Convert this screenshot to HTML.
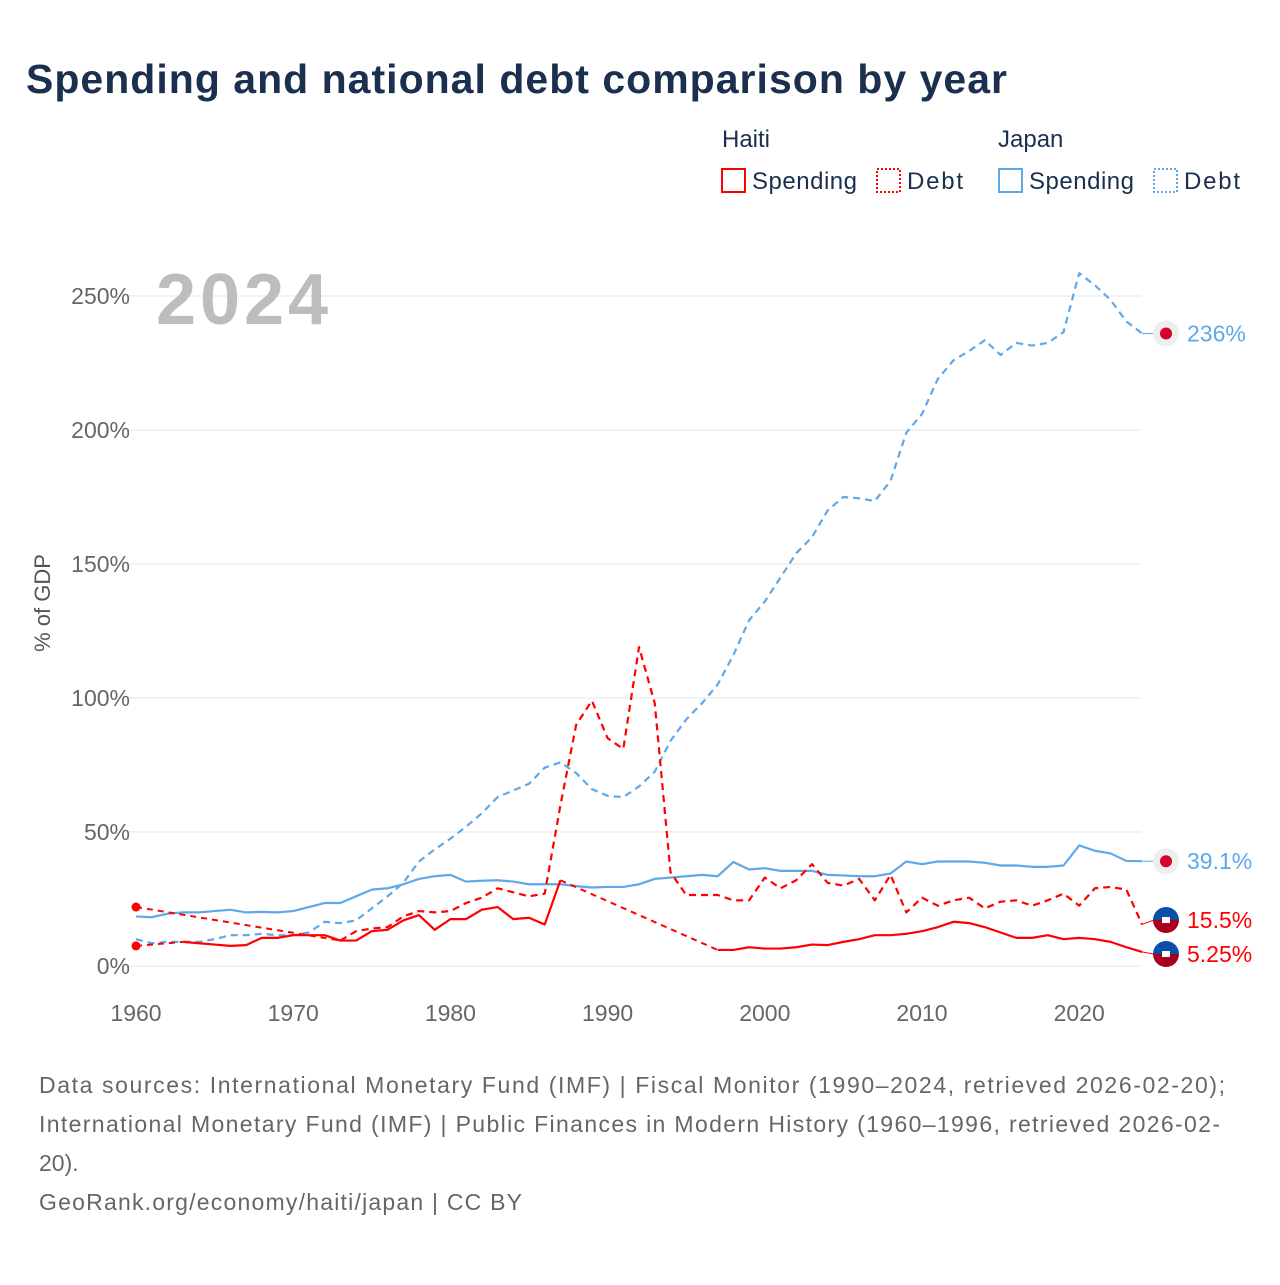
<!DOCTYPE html>
<html><head><meta charset="utf-8">
<style>
html,body{margin:0;padding:0;background:#fff;}
body{width:1280px;height:1280px;position:relative;overflow:hidden;font-family:"Liberation Sans",sans-serif;}
svg text{font-family:"Liberation Sans",sans-serif;}
</style></head>
<body>
<svg id="chart" width="1280" height="1280" xmlns="http://www.w3.org/2000/svg">
  <text x="26" y="93" font-size="41" font-weight="bold" fill="#1b2f4e" textLength="981">Spending and national debt comparison by year</text>
  <g font-size="24" fill="#1b2f4e">
    <text x="722" y="147">Haiti</text>
    <text x="998" y="147">Japan</text>
    <g><rect x="722" y="169" width="23" height="23" fill="none" stroke="#ff0000" stroke-width="2"/><text x="752" y="189" textLength="105">Spending</text></g>
    <g><rect x="877" y="169" width="23" height="23" fill="none" stroke="#ff0000" stroke-width="2" stroke-dasharray="2,2"/><text x="907" y="189" textLength="56">Debt</text></g>
    <g><rect x="999" y="169" width="23" height="23" fill="none" stroke="#5ea8ea" stroke-width="2"/><text x="1029" y="189" textLength="105">Spending</text></g>
    <g><rect x="1154" y="169" width="23" height="23" fill="none" stroke="#5ea8ea" stroke-width="2" stroke-dasharray="2,2"/><text x="1184" y="189" textLength="56">Debt</text></g>
  </g>
  <g id="grid"></g>
  <text x="156" y="324" font-size="72" font-weight="bold" fill="#bdbdbd" textLength="172">2024</text>
  <text transform="translate(50,603) rotate(-90)" text-anchor="middle" font-size="22" fill="#555">% of GDP</text>
  <g id="series"></g>
  <g id="ends"></g>
  <g font-size="23" fill="#666">
    <text x="39" y="1093" textLength="1186">Data sources: International Monetary Fund (IMF) | Fiscal Monitor (1990–2024, retrieved 2026-02-20);</text>
    <text x="39" y="1132" textLength="1181">International Monetary Fund (IMF) | Public Finances in Modern History (1960–1996, retrieved 2026-02-</text>
    <text x="39" y="1171">20).</text>
    <text x="39" y="1210" textLength="483">GeoRank.org/economy/haiti/japan | CC BY</text>
  </g>
</svg>
<script>
const years = []; for (let y = 1960; y <= 2024; y++) years.push(y);
const yTicks = [0, 50, 100, 150, 200, 250];
const xTicks = [1960, 1970, 1980, 1990, 2000, 2010, 2020];
const N = null;
const haitiSpending = [7.5,N,N,9,8.5,8,7.5,7.8,10.5,10.5,11.5,11.5,11.5,9.5,9.5,13,13.5,17,19,13.5,17.5,17.5,21,22,17.5,18,15.5,32,N,N,N,N,N,N,N,N,N,6,6,7,6.5,6.5,7,8,7.8,9,10,11.5,11.5,12,13,14.5,16.5,16,14.5,12.5,10.5,10.5,11.5,10,10.5,10,9,7,5.25];
const haitiDebt = [22,N,N,N,N,N,N,N,N,N,N,N,N,9.5,13,14,14.5,18.5,20.5,20,20.5,23.5,25.5,29,27.5,26,27,60,90,99,85,81,119,98,35,26.5,26.5,26.5,24.5,24.5,33,29,32,38,31,30,32.5,24.5,34,20,25.5,22.5,24.5,25.5,21.5,24,24.5,22.5,24.5,27,22.5,29,29.5,28.5,15.5];
const japanSpending = [18.5,18.2,19.5,20,20,20.5,21,20,20.2,20,20.5,22,23.5,23.5,26,28.5,29,30.5,32.5,33.5,34,31.5,31.8,32,31.5,30.5,30.5,30.5,29.8,29.3,29.5,29.5,30.5,32.5,33,33.5,34,33.5,38.8,36,36.5,35.5,35.5,35.5,34,33.8,33.5,33.5,34.5,39,38,39,39,39,38.5,37.5,37.5,37,37,37.5,45,43,42,39.2,39.1];
const japanDebt = [10,8.5,9,9,9,10,11.5,11.5,12,11.5,11.5,12.5,16.5,16,17,21.5,26,31,39,43.5,47.5,52,57,63,65.5,68,74,76,72,66,63.5,63,67,72.5,84,92,98,105,116,129,136,145,154,160,170,175,174.5,173.5,181,199,206,219,226,229.5,233.5,228,232.5,231.5,232.5,236.5,258.5,254,248.5,240.5,236];
const endLabels = ["236%","39.1%","15.5%","5.25%"];

const NS = "http://www.w3.org/2000/svg";
const X = yr => 136 + (yr - 1960) * 15.72;
const Y = v => 966 - v * 2.68;
function mk(tag, attrs, parent) { const e = document.createElementNS(NS, tag); for (const k in attrs) e.setAttribute(k, attrs[k]); parent.appendChild(e); return e; }

const grid = document.getElementById('grid');
yTicks.forEach(t => {
  const l = mk('line', {x1:128, x2:1141, y1:Y(t), y2:Y(t), stroke:'#e6e6e6', 'stroke-width':1}, grid);
  
  
  const tx = mk('text', {x:130, y:Y(t)+8, 'text-anchor':'end', 'font-size':23, fill:'#666'}, grid);
  tx.textContent = t + '%';
  
  
});
xTicks.forEach(t => {
  const tx = mk('text', {x:X(t), y:1021, 'text-anchor':'middle', 'font-size':23, fill:'#666'}, grid);
  tx.textContent = t;
  
  
});

const sg = document.getElementById('series');
function drawSeries(vals, color, dashed, name) {
  const g = mk('g', {}, sg);
  
  
  let seg = [], prev = null;
  const segs = [];
  vals.forEach((v, i) => {
    if (v === null) { if (seg.length) segs.push(seg); seg = []; return; }
    const p = [X(years[i]), Y(v)];
    if (!seg.length && prev) {
      mk('path', {d:`M${prev[0]},${prev[1]}L${p[0]},${p[1]}`, fill:'none', stroke:color, 'stroke-width':2, 'stroke-dasharray':'6,5'}, g);
    }
    seg.push(p); prev = p;
  });
  if (seg.length) segs.push(seg);
  segs.forEach(s => {
    if (s.length === 1) { mk('circle', {cx:s[0][0], cy:s[0][1], r:4.5, fill:color}, g); return; }
    const attrs = {d:'M' + s.map(p => p.join(',')).join('L'), fill:'none', stroke:color, 'stroke-width':2.2, 'stroke-linejoin':'round'};
    if (dashed) attrs['stroke-dasharray'] = '7,5';
    mk('path', attrs, g);
  });
}
drawSeries(japanDebt, '#5ea8ea', true, 'japan-debt-line');
drawSeries(japanSpending, '#5ea8ea', false, 'japan-spending-line');
drawSeries(haitiDebt, '#ff0000', true, 'haiti-debt-line');
drawSeries(haitiSpending, '#ff0000', false, 'haiti-spending-line');

const ends = document.getElementById('ends');
const endVals = [japanDebt[64], japanSpending[64], haitiDebt[64], haitiSpending[64]];
const endColors = ['#5ea8ea','#5ea8ea','#ff0000','#ff0000'];
const endY = [Y(endVals[0]), Y(endVals[1]), 920, 954];
endVals.forEach((v, i) => {
  const g = mk('g', {}, ends);
  
  
  const cy = endY[i];
  mk('line', {x1:X(2024), x2:1154, y1:Y(v), y2:cy, stroke:endColors[i], 'stroke-width':1}, g);
  if (i < 2) {
    mk('circle', {cx:1166, cy:cy, r:13, fill:'#eeeeee'}, g);
    mk('circle', {cx:1166, cy:cy, r:6, fill:'#d8002a'}, g);
  } else {
    mk('path', {d:`M1153,${cy}A13,13 0 0 1 1179,${cy}Z`, fill:'#0a4fa8'}, g);
    mk('path', {d:`M1153,${cy}A13,13 0 0 0 1179,${cy}Z`, fill:'#a8001e'}, g);
    mk('rect', {x:1162, y:cy-3, width:8, height:6, fill:'#fff'}, g);
  }
  const t = mk('text', {x:1187, y:cy+8, 'font-size':23, fill:endColors[i]}, g);
  t.textContent = endLabels[i];
});
</script>
</body></html>
